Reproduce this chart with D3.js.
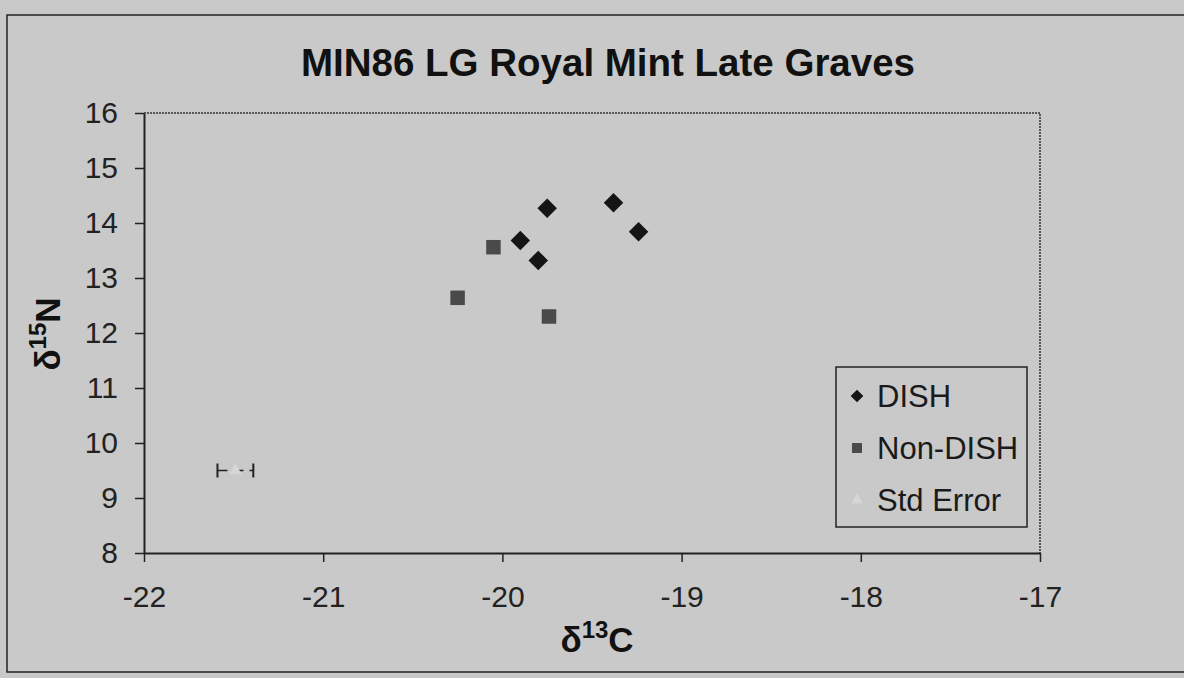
<!DOCTYPE html>
<html>
<head>
<meta charset="utf-8">
<title>MIN86 LG Royal Mint Late Graves</title>
<script src="https://d3js.org/d3.v7.min.js"></script>
<style>
  html, body { margin:0; padding:0; background:#c9c9c9; overflow:hidden; }
  svg { display:block; font-family:"Liberation Sans", Arial, sans-serif; }
</style>
</head>
<body>
<svg width="1184" height="678"></svg>
<script>
// delta 13C / delta 15N values
const dishC = [-19.75, -19.38, -19.24, -19.90, -19.80];
const dishN = [14.27, 14.37, 13.84, 13.68, 13.32];
const nonDishC = [-20.05, -20.25, -19.74];
const nonDishN = [13.56, 12.64, 12.30];
const errC = [-21.49];
const errN = [9.5];
const errX = [0.1];
const xTicks = [-22, -21, -20, -19, -18, -17];
const yTicks = [8, 9, 10, 11, 12, 13, 14, 15, 16];

const svg = d3.select("svg");
const pLeft = 144, pRight = 1040, pTop = 113, pBottom = 553;

const x = d3.scaleLinear().domain([-22, -17]).range([pLeft, pRight]);
const y = d3.scaleLinear().domain([8, 16]).range([pBottom, pTop]);

// outer chart border
svg.append("rect")
  .attr("x", 7).attr("y", 15).attr("width", 1200).attr("height", 657)
  .attr("fill", "none").attr("stroke", "#222").attr("stroke-width", 1.5);

// plot area frame (top & right)
svg.append("path")
  .attr("d", `M${pLeft},${pTop}H${pRight}V${pBottom}`)
  .attr("fill", "none").attr("stroke", "#333").attr("stroke-width", 1.5)
  .attr("stroke-dasharray", "2,1");

svg.append("text")
  .attr("x", 608).attr("y", 76)
  .attr("text-anchor", "middle")
  .attr("font-weight", "bold").attr("font-size", 38.5)
  .attr("fill", "#111")
  .text("MIN86 LG Royal Mint Late Graves");

const fmt = d => String(d).replace("−", "-");
const xAxis = svg.append("g")
  .attr("transform", `translate(0,${pBottom})`)
  .call(d3.axisBottom(x).tickValues(xTicks).tickFormat(fmt).tickSize(9).tickPadding(24).tickSizeOuter(0));
const yAxis = svg.append("g")
  .attr("transform", `translate(${pLeft},0)`)
  .call(d3.axisLeft(y).tickValues(yTicks).tickFormat(fmt).tickSize(9).tickPadding(17).tickSizeOuter(0));

[xAxis, yAxis].forEach(g => {
  g.select(".domain").attr("stroke", "#222").attr("stroke-width", 2);
  g.selectAll(".tick line").attr("stroke", "#222").attr("stroke-width", 1.5);
  g.selectAll(".tick text")
    .attr("font-size", 30).attr("fill", "#222")
    .attr("font-family", "Liberation Sans, Arial, sans-serif");
});
xAxis.selectAll(".tick text").attr("dy", "0.71em");

// axis titles
const xt = svg.append("text")
  .attr("x", 597).attr("y", 652)
  .attr("text-anchor", "middle")
  .attr("font-weight", "bold").attr("font-size", 35).attr("fill", "#111");
xt.append("tspan").text("δ");
xt.append("tspan").attr("dy", -14).attr("font-size", 24).text("13");
xt.append("tspan").attr("dy", 14).text("C");

const yt = svg.append("text")
  .attr("transform", "translate(60,334) rotate(-90)")
  .attr("text-anchor", "middle")
  .attr("font-weight", "bold").attr("font-size", 35).attr("fill", "#111");
yt.append("tspan").text("δ");
yt.append("tspan").attr("dy", -14).attr("font-size", 24).text("15");
yt.append("tspan").attr("dy", 14).text("N");

const diamond = d3.symbol().type(d3.symbolSquare).size(190);

// std error marker with horizontal error bars
const eg = svg.append("g");
errC.forEach((c, i) => {
  const cy = y(errN[i]);
  const x0 = x(c - errX[i]), x1 = x(c + errX[i]);
  eg.append("line").attr("x1", x0).attr("x2", x1).attr("y1", cy).attr("y2", cy)
    .attr("stroke", "#222").attr("stroke-width", 1.5).attr("stroke-dasharray", "10,6");
  [x0, x1].forEach(xx => eg.append("line")
    .attr("x1", xx).attr("x2", xx).attr("y1", cy - 7).attr("y2", cy + 7)
    .attr("stroke", "#222").attr("stroke-width", 2));
  eg.append("path")
    .attr("d", d3.symbol().type(d3.symbolTriangle).size(70)())
    .attr("transform", `translate(${x(c)},${cy})`)
    .attr("fill", "#d6d6d6");
});

svg.append("g").selectAll("path")
  .data(d3.range(nonDishC.length))
  .join("path")
  .attr("d", d3.symbol().type(d3.symbolSquare).size(210)())
  .attr("transform", i => `translate(${x(nonDishC[i])},${y(nonDishN[i])})`)
  .attr("fill", "#4a4a4a");

svg.append("g").selectAll("path")
  .data(d3.range(dishC.length))
  .join("path")
  .attr("d", diamond())
  .attr("transform", i => `translate(${x(dishC[i])},${y(dishN[i])}) rotate(45)`)
  .attr("fill", "#151515");

// legend
const lg = svg.append("g");
lg.append("rect")
  .attr("x", 836).attr("y", 367).attr("width", 191).attr("height", 160)
  .attr("fill", "none").attr("stroke", "#222").attr("stroke-width", 1.5);
const items = [
  { label: "DISH", sym: d3.symbolSquare, size: 80, rot: 45, fill: "#151515" },
  { label: "Non-DISH", sym: d3.symbolSquare, size: 100, rot: 0, fill: "#4a4a4a" },
  { label: "Std Error", sym: d3.symbolTriangle, size: 60, rot: 0, fill: "#d6d6d6" }
];
items.forEach((it, i) => {
  const cy = 396 + i * 52;
  lg.append("path")
    .attr("d", d3.symbol().type(it.sym).size(it.size)())
    .attr("transform", `translate(857,${cy}) rotate(${it.rot})`)
    .attr("fill", it.fill);
  lg.append("text")
    .attr("x", 877).attr("y", cy + 11)
    .attr("font-size", 31).attr("fill", "#1a1a1a")
    .text(it.label);
});
</script>
</body>
</html>
